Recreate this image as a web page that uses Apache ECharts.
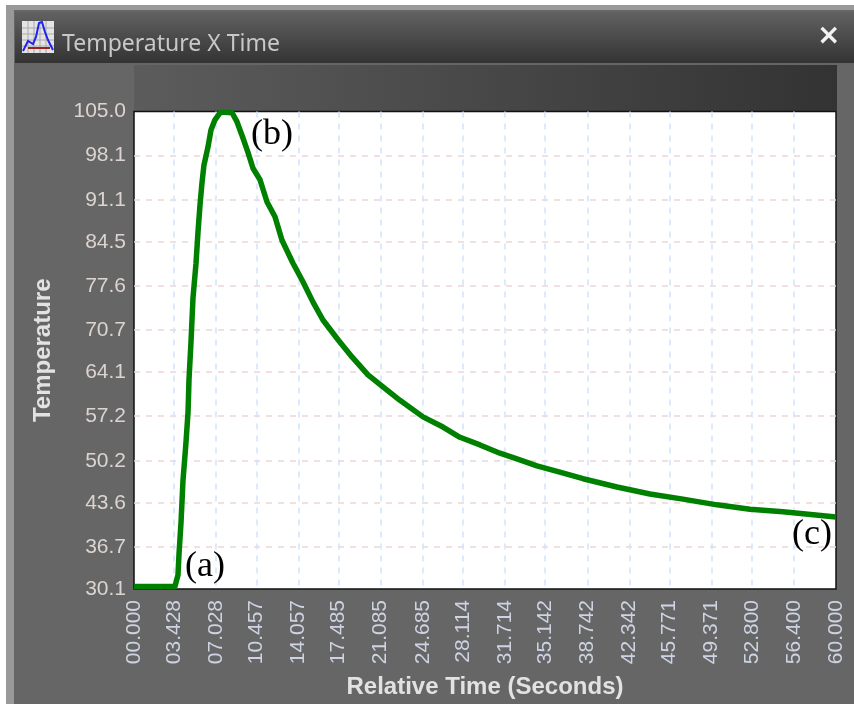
<!DOCTYPE html>
<html><head><meta charset="utf-8">
<style>html,body{margin:0;padding:0;background:#fff}#c{width:854px;height:704px}</style>
<script src="https://cdn.jsdelivr.net/npm/echarts@6/dist/echarts.min.js"></script>
</head><body><div id="c"></div>
<script>
const times=[0,3.5,3.76,3.85,4.02,4.19,4.44,4.62,4.7,4.87,5.04,5.3,5.47,5.64,5.81,5.98,6.32,6.58,6.92,7.35,7.78,8.38,8.8,9.32,9.74,10.17,10.77,11.37,12.05,12.65,13.59,14.44,15.3,16.15,17.44,18.63,20,21.28,22.73,24.7,26.41,27.86,29.57,31.28,32.73,34.44,36.24,38.38,41.28,44.1,46.92,49.83,52.65,55.47,60];
const temps=[30.5,30.5,32.3,35.7,40.6,47.2,53,57.9,62.9,68.8,75.7,81.2,86.1,90.3,93.8,96.6,99.4,102.1,103.7,104.8,104.9,104.8,103.4,100.8,98.6,96.1,94.3,90.8,88.5,84.8,81.2,78.3,75.1,72.3,69.2,66.5,63.7,61.8,59.7,57.1,55.5,53.9,52.7,51.4,50.5,49.4,48.5,47.4,46.1,45,44.2,43.3,42.6,42.2,41.4];
const xTicks=[0,3.428,7.028,10.457,14.057,17.485,21.085,24.685,28.114,31.714,35.142,38.742,42.342,45.771,49.371,52.8,56.4,60];
const yTicks=[30.1,36.7,43.6,50.2,57.2,64.1,70.7,77.6,84.5,91.1,98.1,105];
const windowTitle='Temperature X Time', xName='Relative Time (Seconds)', yName='Temperature';
const notes=['(a)','(b)','(c)'];
const grad=(x,y,x2,y2,a,b)=>new echarts.graphic.LinearGradient(x,y,x2,y2,[{offset:0,color:a},{offset:1,color:b}]);
const serif={fontFamily:'"Liberation Serif"',fontSize:36,fill:'#000'};
const iconGrid=[28,34,40,46].flatMap(p=>[
  {type:'line',z:-2,shape:{x1:p,y1:21,x2:p,y2:53},style:{stroke:'#aaa',lineWidth:1}},
  {type:'line',z:-2,shape:{x1:22,y1:p,x2:54,y2:p},style:{stroke:'#aaa',lineWidth:1}}]);
const chart=echarts.init(document.getElementById('c'),null,{renderer:'canvas'});
chart.setOption({
 animation:false,backgroundColor:'#fff',
 graphic:{elements:[
  {type:'rect',z:-5,shape:{x:6,y:5,width:848,height:699},style:{fill:'#999'}},
  {type:'rect',z:-4,shape:{x:14,y:10,width:840,height:694},style:{fill:'#666'}},
  {type:'rect',z:-3,shape:{x:15,y:12,width:839,height:51},style:{fill:grad(0,0,0,1,'#626262','#333')}},
  {type:'rect',z:-3,shape:{x:134,y:65,width:703,height:46},style:{fill:grad(0,0,1,0,'#5c5c5c','#333')}},
  {type:'rect',z:-2,shape:{x:22,y:21,width:32,height:32},style:{fill:'#e4e4e4'}},
  ...iconGrid,
  {type:'polyline',z:-1,shape:{points:[[23,51],[28,41],[33,44],[36,37],[39,23],[42,22],[45,32],[48,40],[53,50]]},style:{fill:null,stroke:'#2222ee',lineWidth:2}},
  {type:'line',z:-1,shape:{x1:28,y1:48,x2:50,y2:48},style:{stroke:'#992222',lineWidth:2}},
  {type:'text',z:5,x:62,y:33,style:{text:windowTitle,fontFamily:'"Noto Sans"',fontSize:23,fill:'#c8c8c8'}},
  {type:'text',z:5,x:817,y:23,style:{text:'×',fontFamily:'"DejaVu Sans"',fontWeight:'bold',fontSize:28,fill:'#f2f2f2'}},
  {type:'text',z:5,x:185,y:549,style:Object.assign({text:notes[0]},serif)},
  {type:'text',z:5,x:251,y:117,style:Object.assign({text:notes[1]},serif)},
  {type:'text',z:5,x:792,y:517,style:Object.assign({text:notes[2]},serif)}
 ]},
 grid:{left:134,top:111.5,width:702,height:477.5,show:true,backgroundColor:'#fff',borderColor:'#111',borderWidth:1.5},
 xAxis:{type:'value',min:0,max:60,
  name:xName,nameLocation:'middle',nameGap:86,
  nameTextStyle:{color:'#e2e2e2',fontFamily:'"Liberation Sans"',fontWeight:'bold',fontSize:24},
  axisLine:{show:false},axisTick:{show:false,customValues:xTicks},
  axisLabel:{customValues:xTicks,rotate:90,color:'#cdd3e2',fontFamily:'"Liberation Sans"',fontSize:21,margin:11,
   formatter:v=>v.toFixed(3).padStart(6,'0'),showMinLabel:true,showMaxLabel:true,hideOverlap:false},
  splitLine:{show:true,showMinLine:false,showMaxLine:false,lineStyle:{color:'#cfe4fb',width:1.5,type:[6,6]}}},
 yAxis:{type:'value',min:30.1,max:105,
  name:yName,nameLocation:'middle',nameGap:79,
  nameTextStyle:{color:'#e2e2e2',fontFamily:'"Liberation Sans"',fontWeight:'bold',fontSize:24},
  axisLine:{show:false},axisTick:{show:false,customValues:yTicks},
  axisLabel:{customValues:yTicks,color:'#dcd4d0',fontFamily:'"Liberation Sans"',fontSize:21,margin:8,
   formatter:v=>v.toFixed(1),showMinLabel:true,showMaxLabel:true,hideOverlap:false},
  splitLine:{show:true,showMinLine:false,showMaxLine:false,lineStyle:{color:'#ecd8d8',width:1.5,type:[6,6]}}},
 series:[{type:'line',data:times.map((t,i)=>[t,temps[i]]),showSymbol:false,symbol:'none',clip:true,
  lineStyle:{color:'#008000',width:5.5,join:'round'},z:3}]
});
</script></body></html>
